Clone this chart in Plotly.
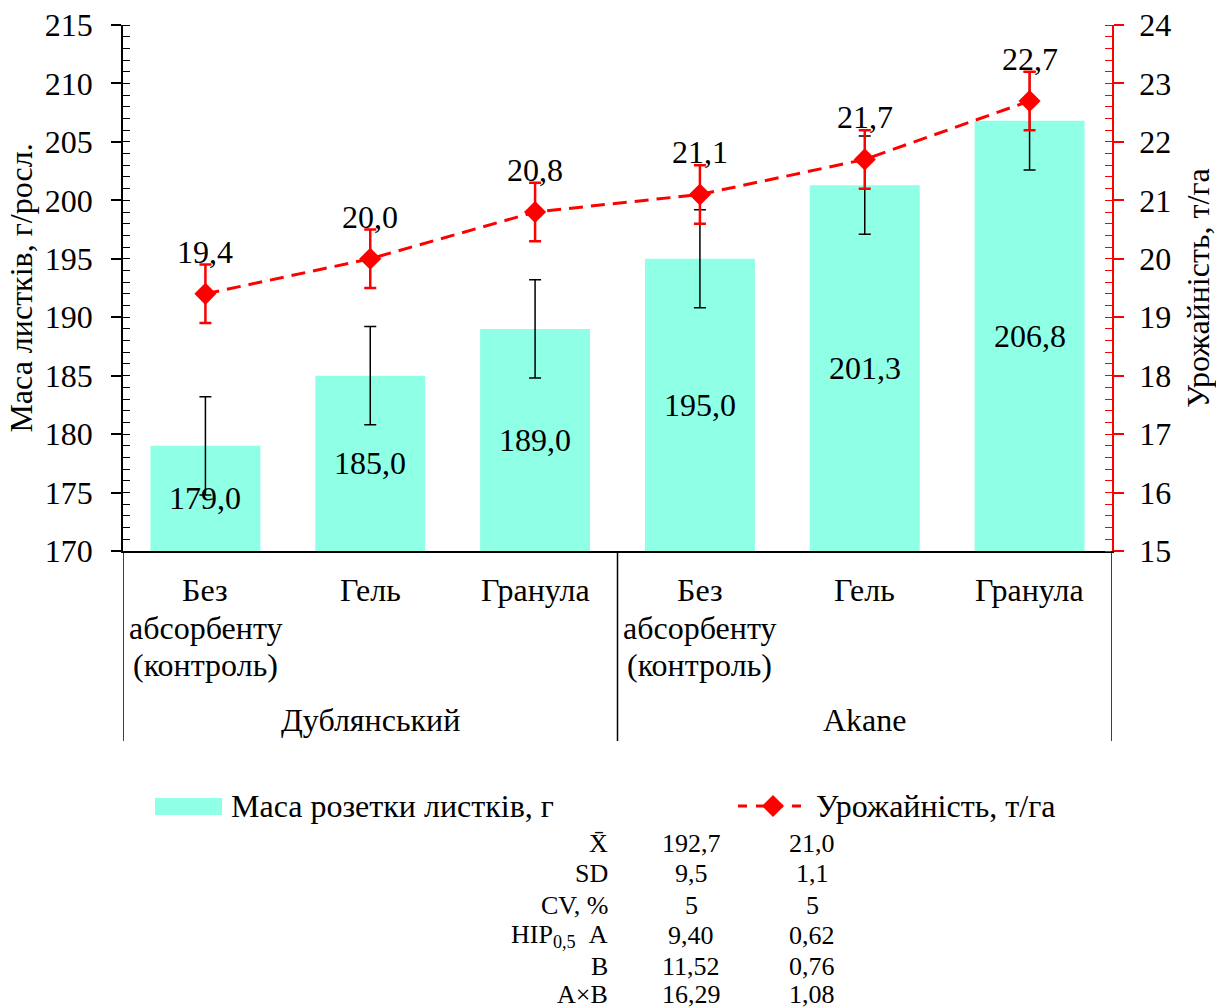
import plotly.graph_objects as go

# ---- data -------------------------------------------------------------
groups = ["Дублянський", "Akane"]
treatments = ["Без<br>абсорбенту<br>(контроль)", "Гель", "Гранула"]
categories = treatments + treatments
mass = [179.0, 185.0, 189.0, 195.0, 201.3, 206.8]          # г/росл.
mass_err = [4.2, 4.2, 4.2, 4.2, 4.2, 4.2]
yield_t = [19.4, 20.0, 20.8, 21.1, 21.7, 22.7]            # т/га
yield_err = [0.5, 0.5, 0.5, 0.5, 0.5, 0.5]

mass_name = "Маса розетки листків, г"
yield_name = "Урожайність, т/га"

stat_labels = ["X\u0304", "SD", "CV, %", "НІР<sub>0,5</sub>  A", "B", "A×B"]
stat_mass = ["192,7", "9,5", "5", "9,40", "11,52", "16,29"]
stat_yield = ["21,0", "1,1", "5", "0,62", "0,76", "1,08"]

MASS_MIN, MASS_MAX = 170, 215
YIELD_MIN, YIELD_MAX = 15, 24


def fmt(v, d=1):
    return f"{v:.{d}f}".replace(".", ",")


# ---- layout geometry (pixels) -------------------------------------------
W, H = 1216, 1007
L, R, T, B = 123, 104, 25, 456
PW, PH = W - L - R, H - T - B
FONT = "Liberation Serif"
FS = 32          # main text size
FS_TAB = 26      # statistics table
BAR_COLOR = "#8FFFE6"
RED = "#FF0000"


def px(x):
    return (x - L) / PW


def py(y):
    return (H - B - y) / PH


def text_font(size=FS):
    return dict(family=FONT, size=size, color="black")


idx = list(range(len(categories)))

fig = go.Figure()

fig.add_trace(go.Bar(
    x=idx, y=mass, name=mass_name, width=0.667,
    marker=dict(color=BAR_COLOR, line=dict(width=0)),
    error_y=dict(type="data", array=mass_err, color="black", thickness=1.5, width=6),
    showlegend=False,
))

fig.add_trace(go.Scatter(
    x=idx, y=yield_t, name=yield_name, yaxis="y2", mode="lines+markers",
    line=dict(color=RED, width=3, dash="14px,8px"),
    marker=dict(symbol="diamond", size=17, color=RED),
    error_y=dict(type="data", array=yield_err, color=RED, thickness=2.5, width=6),
    showlegend=False,
))

# bar values, centred in the visible part of each bar
for i, v in zip(idx, mass):
    fig.add_annotation(x=i, y=(MASS_MIN + v) / 2, xref="x", yref="y", text=fmt(v),
                       showarrow=False, font=text_font())

# value labels above the yield points
for i, v in zip(idx, yield_t):
    fig.add_annotation(x=i, y=v, xref="x", yref="y2", text=fmt(v), showarrow=False,
                       yshift=42, font=text_font())

# category labels (one annotation per line for tight line spacing)
for i, cat in zip(idx, categories):
    for j, line in enumerate(cat.split("<br>")):
        fig.add_annotation(x=i, y=py(590 + 37.5 * j), xref="x", yref="paper", text=line,
                           showarrow=False, yanchor="middle", font=text_font())

# group labels under the category labels
for g, gx in zip(groups, [1, 4]):
    fig.add_annotation(x=gx, y=py(720), xref="x", yref="paper", text=g, showarrow=False,
                       yanchor="middle", font=text_font())

shapes = []
# dividers of the two-level category axis
for xv in [-0.5, 2.5, 5.5]:
    shapes.append(dict(type="line", xref="x", yref="paper", x0=xv, x1=xv, y0=0, y1=py(741),
                       line=dict(color="black", width=1.5)))

# legend
shapes.append(dict(type="rect", xref="paper", yref="paper", x0=px(155), x1=px(222),
                   y0=py(815), y1=py(798), fillcolor=BAR_COLOR, line=dict(width=0)))
shapes.append(dict(type="line", xref="paper", yref="paper", x0=px(738), x1=px(808),
                   y0=py(806), y1=py(806), line=dict(color=RED, width=3, dash="dash")))
cx, cy, r = 773, 806, 11
shapes.append(dict(type="path", xref="paper", yref="paper",
                   path=(f"M{px(cx - r)},{py(cy)} L{px(cx)},{py(cy - r)} "
                         f"L{px(cx + r)},{py(cy)} L{px(cx)},{py(cy + r)} Z"),
                   fillcolor=RED, line=dict(color=RED, width=0)))
fig.add_annotation(x=px(229), y=py(806), xref="paper", yref="paper", text=mass_name,
                   showarrow=False, xanchor="left", yanchor="middle", font=text_font())
fig.add_annotation(x=px(814), y=py(806), xref="paper", yref="paper", text=yield_name,
                   showarrow=False, xanchor="left", yanchor="middle", font=text_font())

# summary statistics table
row_y = [843, 874, 905, 936, 966, 995]
for lab, m, yv, ry in zip(stat_labels, stat_mass, stat_yield, row_y):
    fig.add_annotation(x=px(610), y=py(ry), xref="paper", yref="paper", text=lab,
                       showarrow=False, xanchor="right", yanchor="middle",
                       font=text_font(FS_TAB))
    fig.add_annotation(x=px(691), y=py(ry), xref="paper", yref="paper", text=m,
                       showarrow=False, xanchor="center", yanchor="middle",
                       font=text_font(FS_TAB))
    fig.add_annotation(x=px(812), y=py(ry), xref="paper", yref="paper", text=yv,
                       showarrow=False, xanchor="center", yanchor="middle",
                       font=text_font(FS_TAB))

fig.update_layout(
    width=W, height=H,
    margin=dict(l=L, r=R, t=T, b=B, pad=0, autoexpand=False),
    paper_bgcolor="white", plot_bgcolor="white",
    font=text_font(),
    shapes=shapes,
    xaxis=dict(
        range=[-0.5, 5.5], tickmode="array", tickvals=idx, showticklabels=False,
        showline=True, linecolor="black", linewidth=1.5, ticks="",
        showgrid=False, zeroline=False, automargin=False,
    ),
    yaxis=dict(
        range=[MASS_MIN, MASS_MAX], tickmode="linear", tick0=MASS_MIN, dtick=5,
        showline=True, linecolor="black", linewidth=1.5,
        ticks="outside", ticklen=10, tickwidth=1.5, tickcolor="black",
        minor=dict(tickmode="linear", tick0=MASS_MIN, dtick=1, ticks="inside", ticklen=7,
                   tickwidth=1.2, tickcolor="black", showgrid=False),
        tickfont=text_font(), ticklabelstandoff=12, showgrid=False, zeroline=False,
        automargin=False,
        title=dict(text="Маса листків, г/росл.", font=text_font(), standoff=3),
    ),
    yaxis2=dict(
        range=[YIELD_MIN, YIELD_MAX], tickmode="linear", tick0=YIELD_MIN, dtick=1,
        overlaying="y", side="right",
        showline=True, linecolor=RED, linewidth=1.5,
        ticks="outside", ticklen=10, tickwidth=1.5, tickcolor=RED,
        minor=dict(tickmode="linear", tick0=YIELD_MIN, dtick=0.2, ticks="inside", ticklen=7,
                   tickwidth=1.2, tickcolor=RED, showgrid=False),
        tickfont=text_font(), ticklabelstandoff=9, showgrid=False, zeroline=False,
        automargin=False,
        title=dict(text="Урожайність, т/га", font=text_font(), standoff=18),
    ),
    # inner halves of the major ticks, so they cross the axis lines
    yaxis3=dict(range=[MASS_MIN, MASS_MAX], tickmode="linear", tick0=MASS_MIN, dtick=5,
                overlaying="y", side="left", anchor="x", ticks="inside", ticklen=10,
                tickwidth=1.5, tickcolor="black", showticklabels=False, showline=False,
                showgrid=False, zeroline=False, automargin=False),
    yaxis4=dict(range=[YIELD_MIN, YIELD_MAX], tickmode="linear", tick0=YIELD_MIN, dtick=1,
                overlaying="y", side="right", anchor="x", ticks="inside", ticklen=10,
                tickwidth=1.5, tickcolor=RED, showticklabels=False, showline=False,
                showgrid=False, zeroline=False, automargin=False),
)

fig.write_html("out.html")
